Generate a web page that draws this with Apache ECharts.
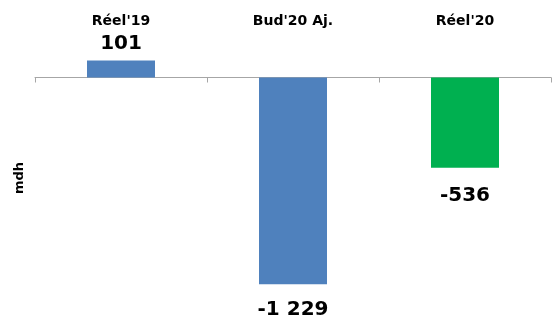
<!DOCTYPE html>
<html><head><meta charset="utf-8">
<script src="https://cdn.jsdelivr.net/npm/echarts@6/dist/echarts.min.js"></script>
<style>html,body{margin:0;padding:0;background:#fff}#c{width:557px;height:323px}</style>
</head><body><div id="c"></div>
<script>
const categories = ["Réel'19", "Bud'20 Aj.", "Réel'20"];
const values = [101, -1229, -536];
const barColors = ["#4F81BD", "#4F81BD", "#00B050"];
const yLabel = "mdh";

function fmt(v){
  const s = Math.abs(v).toString().replace(/\B(?=(\d{3})+(?!\d))/g, " ");
  return (v < 0 ? "-" : "") + s;
}
const labelDist = [7, 15, 18];
const chart = echarts.init(document.getElementById('c'), null, {renderer:'canvas'});
const FONT = "DejaVu Sans";
chart.setOption({
  animation:false,
  grid:{left:35, right:6, top:43.85, bottom:26.75, containLabel:false},
  xAxis:[
    {type:'category', data:categories, position:'bottom',
     axisLine:{onZero:true, lineStyle:{color:'#A6A6A6', width:1}},
     axisTick:{show:true, length:5, alignWithLabel:false, lineStyle:{color:'#A6A6A6'}},
     axisLabel:{show:false}},
    {type:'category', data:categories, position:'top',
     axisLine:{show:false}, axisTick:{show:false},
     axisLabel:{show:true, margin:15, color:'#000', fontFamily:FONT, fontWeight:'bold', fontSize:14}}
  ],
  yAxis:{type:'value', min:-1300, max:200, show:true,
    axisLine:{show:false}, axisTick:{show:false}, axisLabel:{show:false}, splitLine:{show:false}},
  graphic:[{type:'text', x:20, y:178, rotation:Math.PI/2,
    style:{text:yLabel, font:'bold 13px "DejaVu Sans"', fill:'#000', textAlign:'center', textVerticalAlign:'middle'}}],
  series:[{
    type:'bar', xAxisIndex:0, barWidth:68,
    data: values.map((v,i)=>({value:v, itemStyle:{color:barColors[i]},
      label:{position: v>=0?'top':'bottom', distance: labelDist[i]}})),
    label:{show:true, formatter:p=>fmt(p.value), fontFamily:FONT, fontWeight:'bold', fontSize:20, color:'#000'}
  }]
});
</script></body></html>
